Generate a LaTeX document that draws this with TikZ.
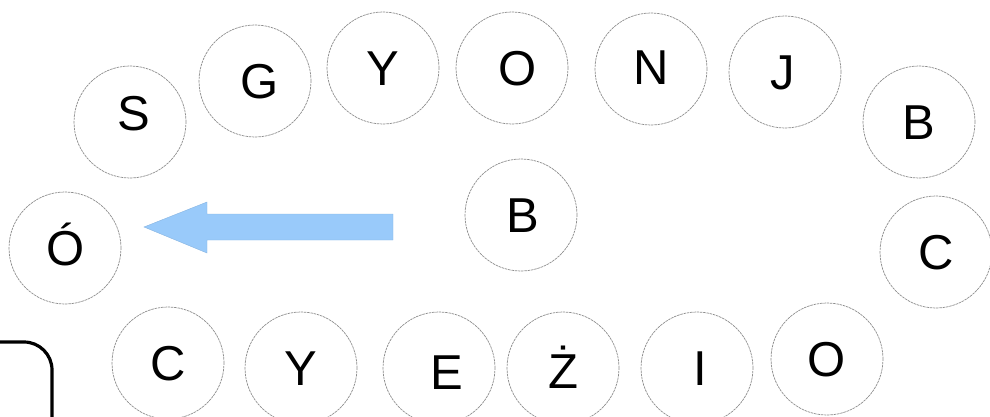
\documentclass[tikz,border=0pt]{standalone}
\usepackage{fontspec}
\setmainfont{Liberation Sans}
\definecolor{ringgray}{RGB}{140,140,140}
\definecolor{arrowblue}{RGB}{153,202,250}
\definecolor{arrowedge}{RGB}{135,180,225}
\begin{document}
\begin{tikzpicture}[x=1pt,y=-1pt,
  disc/.style={circle, draw=ringgray, dash pattern=on 2.5pt off 0.8pt, line width=0.7pt, minimum size=112pt, inner sep=0pt},
  lettr/.style={font=\fontsize{49}{49}\selectfont, text height=35pt, text depth=0pt, inner sep=0pt, anchor=center}]
\useasboundingbox (0,0) rectangle (990,417);
% top arc
\node[disc, label={[lettr, xshift=4pt, yshift=9pt]center:S}] (s) at (130,122) {};
\node[disc, label={[lettr, xshift=5pt]center:G}] (g) at (255,81) {};
\node[disc, label={[lettr]center:Y}] (y1) at (383,68) {};
\node[disc, label={[lettr, xshift=6pt]center:O}] (o1) at (512,68) {};
\node[disc, label={[lettr, yshift=2pt]center:N}] (n) at (651,69) {};
\node[disc, label={[lettr, xshift=-2pt]center:J}] (j) at (785,72) {};
\node[disc, label={[lettr]center:B}] (b1) at (919,122) {};
\node[disc, label={[lettr]center:C}] (c1) at (936,252) {};
% left and centre
\node[disc, label={[lettr, xshift=1pt]center:Ó}] (oacute) at (65,248) {};
\node[disc, label={[lettr, xshift=2pt]center:B}] (b2) at (521,215) {};
% bottom row
\node[disc, label={[lettr]center:C}] (c2) at (168,363) {};
\node[disc, label={[lettr]center:Y}] (y2) at (301,368) {};
\node[disc, label={[lettr, xshift=8pt, yshift=-4pt]center:E}] (e) at (439,368) {};
\node[disc, label={[lettr, yshift=-3pt]center:Ż}] (zdot) at (563,368) {};
\node[disc, label={[lettr, xshift=3pt]center:I}] (i) at (697,368) {};
\node[disc, label={[lettr]center:O}] (o2) at (827,359) {};
% block arrow
\filldraw[fill=arrowblue, draw=arrowedge, line width=0.4pt]
  (144,227) -- (207,202) -- (207,214) -- (393,214) -- (393,240) -- (207,240) -- (207,253) -- cycle;
% rounded frame at bottom left
\draw[line width=3.2pt, rounded corners=28pt] (-20,342) -- (52,342) -- (52,450);
\end{tikzpicture}
\end{document}
